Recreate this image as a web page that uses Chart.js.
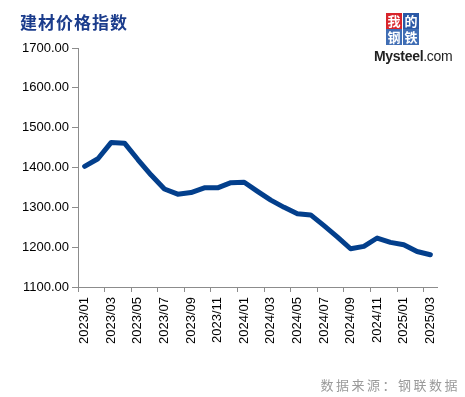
<!DOCTYPE html>
<html>
<head>
<meta charset="utf-8">
<script src="https://cdn.jsdelivr.net/npm/chart.js@4/dist/chart.umd.min.js"></script>
<style>
    html, body { margin: 0; padding: 0; background: #fff; }
    #wrap { position: relative; width: 465px; height: 397px; overflow: hidden; }
    #chart { position: absolute; left: 0; top: 0; }
    .title { position: absolute; left: 20px; top: 9px; font: bold 17px "Noto Sans CJK SC", sans-serif; color: #1b3c8c; letter-spacing: 1px; }
    .source { position: absolute; right: 5px; top: 375px; font: 13px "Noto Sans CJK SC", sans-serif; color: #9a9a9a; letter-spacing: 2.5px; }
    .logo { position: absolute; left: 374px; top: 12px; width: 80px; height: 56px; }
    .logo .cell { position: absolute; width: 16px; height: 16px; font: bold 13px/16px "Noto Sans CJK SC", sans-serif; color: #fff; text-align: center; }
    .logo .brand { position: absolute; left: 0; top: 36px; font: bold 14px "Liberation Sans", Arial, sans-serif; color: #222; letter-spacing: -0.3px; }
    .logo .brand span { font-weight: normal; }
</style>
</head>
<body>
<div id="wrap">
    <canvas id="chart" width="465" height="397"></canvas>
    <div class="title">建材价格指数</div>
    <div class="logo">
        <div class="cell" style="left:12px;top:1px;background:#d8252b;">我</div>
        <div class="cell" style="left:29px;top:1px;background:#2a58a6;">的</div>
        <div class="cell" style="left:12px;top:17px;background:#3f6db4;">钢</div>
        <div class="cell" style="left:29px;top:17px;background:#3f6db4;">铁</div>
        <div class="brand">Mysteel<span>.com</span></div>
    </div>
    <div class="source">数据来源：钢联数据</div>
</div>
<script>
// 月份
const months = [
    '2023/01', '2023/02', '2023/03', '2023/04', '2023/05', '2023/06', '2023/07', '2023/08', '2023/09',
    '2023/10', '2023/11', '2023/12', '2024/01', '2024/02', '2024/03', '2024/04', '2024/05', '2024/06',
    '2024/07', '2024/08', '2024/09', '2024/10', '2024/11', '2024/12', '2025/01', '2025/02', '2025/03'
];

// 建材价格指数
const indexValues = [
    1403, 1422, 1463, 1461, 1420, 1381, 1346, 1333, 1337,
    1349, 1349, 1362, 1363, 1340, 1318, 1300, 1284, 1281,
    1254, 1226, 1196, 1202, 1223, 1212, 1206, 1189, 1181
];

const yMin = 1100;
const yMax = 1700;
const yStep = 100;

const axisGray = '#8c8c8c';
const tickFont = { family: '"Liberation Sans", Arial, sans-serif', size: 13 };

const ctx = document.getElementById('chart');
new Chart(ctx, {
    type: 'line',
    data: {
        labels: months,
        datasets: [{
            label: '建材价格指数',
            data: indexValues,
            borderColor: '#033f8c',
            borderWidth: 5,
            pointRadius: 0,
            tension: 0,
            fill: false,
            borderJoinStyle: 'round',
            borderCapStyle: 'round'
        }]
    },
    options: {
        responsive: false,
        animation: false,
        devicePixelRatio: 1,
        layout: {
            padding: { top: 48, right: 28, bottom: 0, left: 0 }
        },
        plugins: {
            legend: { display: false },
            tooltip: { enabled: false }
        },
        scales: {
            x: {
                offset: true,
                grid: {
                    offset: true,
                    drawOnChartArea: false,
                    drawTicks: true,
                    tickLength: 5,
                    tickColor: (c) => (c.index % 2 === 0 ? axisGray : 'rgba(0,0,0,0)')
                },
                border: { color: axisGray, width: 1 },
                ticks: {
                    autoSkip: false,
                    maxRotation: 90,
                    minRotation: 90,
                    padding: 5,
                    color: '#000',
                    font: tickFont,
                    callback: function(value, index) {
                        return index % 2 === 0 ? this.getLabelForValue(value) : '';
                    }
                },
                afterFit: (scale) => { scale.height = 110; }
            },
            y: {
                min: yMin,
                max: yMax,
                grid: {
                    drawOnChartArea: false,
                    drawTicks: true,
                    tickLength: 6,
                    tickColor: axisGray
                },
                border: { color: axisGray, width: 1 },
                ticks: {
                    stepSize: yStep,
                    padding: 3,
                    color: '#000',
                    font: tickFont,
                    callback: (v) => v.toFixed(2)
                },
                afterFit: (scale) => { scale.width = 78; }
            }
        }
    }
});
</script>
</body>
</html>
